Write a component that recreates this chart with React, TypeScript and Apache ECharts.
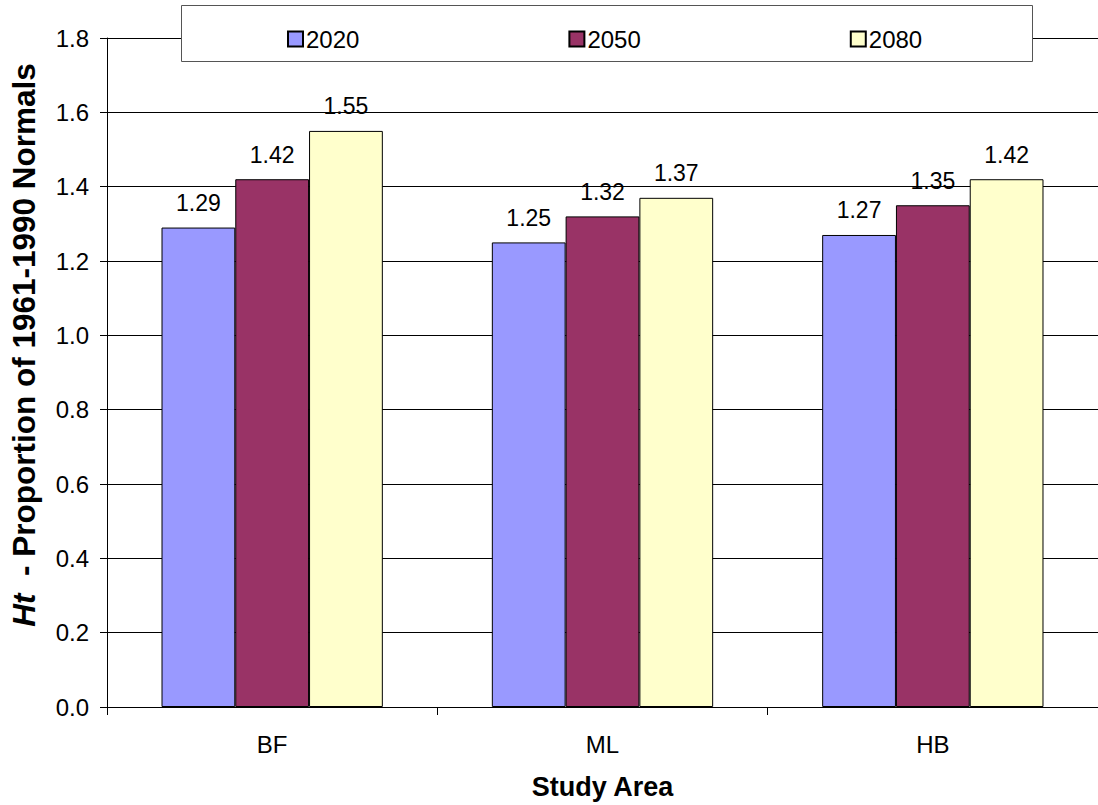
import React, { useEffect, useRef } from "react";
import * as echarts from "echarts";

const areas = ["BF", "ML", "HB"];
const years = ["2020", "2050", "2080"];
const values2020 = [1.29, 1.25, 1.27];
const values2050 = [1.42, 1.32, 1.35];
const values2080 = [1.55, 1.37, 1.42];
const yTicks = [0, 0.2, 0.4, 0.6, 0.8, 1.0, 1.2, 1.4, 1.6, 1.8];

const colors = ["#9999FF", "#993366", "#FFFFCC"];
const FONT = "'Liberation Sans', Arial, sans-serif";

export default function App() {
  const ref = useRef<HTMLDivElement>(null);

  useEffect(() => {
    if (!ref.current) return;
    const chart = echarts.init(ref.current, undefined, { renderer: "svg" });
    const seriesValues = [values2020, values2050, values2080];

    chart.setOption({
      animation: false,
      backgroundColor: "#ffffff",
      textStyle: { fontFamily: FONT },
      grid: { left: 107, top: 38, width: 999, bottom: 97, containLabel: false },
      graphic: [
        {
          type: "rect",
          z: 5,
          shape: { x: 181.5, y: 5.5, width: 851, height: 56 },
          style: { fill: "#ffffff", stroke: "#555555", lineWidth: 1 },
        },
        {
          type: "text",
          z: 5,
          x: 23.5,
          y: 345,
          rotation: Math.PI / 2,
          style: {
            text: "{i|Ht} {b| - Proportion of 1961-1990 Normals}",
            align: "center",
            verticalAlign: "middle",
            rich: {
              i: { fontFamily: FONT, fontSize: 31.5, fontWeight: "bold", fontStyle: "italic", fill: "#000" },
              b: { fontFamily: FONT, fontSize: 31.5, fontWeight: "bold", fill: "#000" },
            },
            fontFamily: FONT,
            fontSize: 31.5,
            fontWeight: "bold",
            fill: "#000",
          },
        },
      ],
      legend: {
        z: 10,
        left: 282,
        top: 22,
        itemGap: 209,
        itemWidth: 15,
        itemHeight: 15,
        icon: "rect",
        data: years,
        textStyle: { fontFamily: FONT, fontSize: 24, color: "#000", padding: [0, 0, 0, -2] },
      },
      xAxis: {
        type: "category",
        data: areas,
        name: "Study Area",
        nameLocation: "middle",
        nameGap: 66,
        nameTextStyle: { fontFamily: FONT, fontSize: 27, fontWeight: "bold", color: "#000" },
        axisLine: { lineStyle: { color: "#000", width: 1 } },
        axisTick: { show: true, length: 8, lineStyle: { color: "#000" } },
        axisLabel: { fontFamily: FONT, fontSize: 24, color: "#000", margin: 25 },
      },
      yAxis: {
        type: "value",
        min: 0,
        max: 1.8,
        interval: 0.2,
        axisLine: { show: true, lineStyle: { color: "#000", width: 1 } },
        axisTick: { show: true, inside: false, length: 7, lineStyle: { color: "#000" } },
        axisLabel: {
          fontFamily: FONT,
          fontSize: 24,
          color: "#000",
          margin: 18,
          formatter: (v: number) => {
            const t = yTicks.find((x) => Math.abs(x - v) < 1e-9);
            return (t !== undefined ? t : v).toFixed(1);
          },
        },
        splitLine: { show: true, lineStyle: { color: "#000", width: 1 } },
      },
      series: years.map((y, i) => ({
        name: y,
        type: "bar",
        data: seriesValues[i],
        barGap: "0%",
        barCategoryGap: "33%",
        itemStyle: { color: colors[i], borderColor: "#000", borderWidth: 1 },
        label: {
          show: true,
          position: "top",
          distance: 13,
          fontFamily: FONT,
          fontSize: 23,
          color: "#000",
          formatter: (p: any) => p.value.toFixed(2),
        },
      })),
    });

    return () => chart.dispose();
  }, []);

  return (
    <div
      ref={ref}
      style={{ position: "absolute", left: 0, top: 0, width: 1098, height: 805 }}
    />
  );
}
